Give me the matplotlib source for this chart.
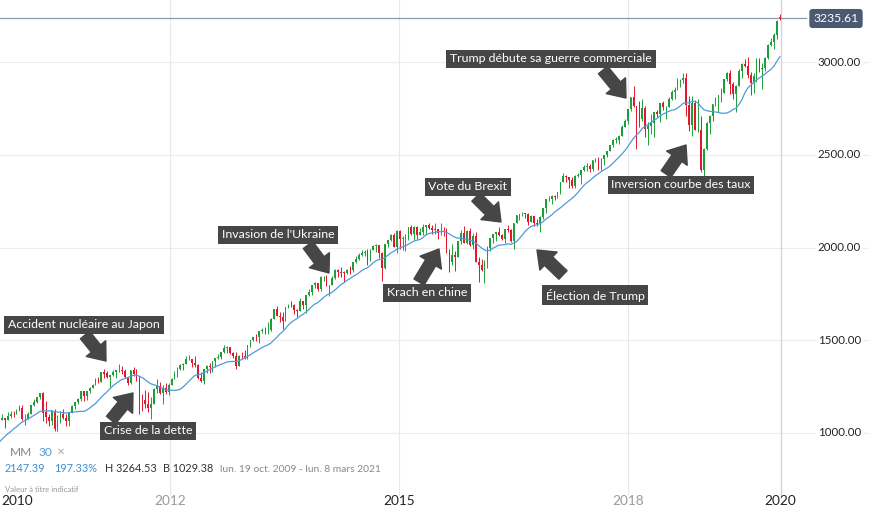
import matplotlib
matplotlib.use("Agg")
import matplotlib.pyplot as plt
from matplotlib.patches import FancyArrowPatch
import numpy as np
import pandas as pd

plt.rcParams['font.family'] = ['Lato', 'DejaVu Sans']

# ---------------- data (bi-weekly candles, S&P 500) ----------------
start_date = "2009-03-16"

opens = [757, 815, 856, 866, 929, 887, 940, 921, 896, 940, 987, 1004, 1028, 1042, 1044, 1071, 1079, 1069, 1091, 1105, 1102,
         1116, 1136, 1073, 1075, 1105, 1149, 1167, 1194, 1217, 1111, 1087, 1065, 1117, 1023, 1065, 1102, 1080, 1063, 1110, 1148, 1165, 1183, 1225, 1199, 1224, 1244,
         1258, 1293, 1277, 1329, 1321, 1304, 1314, 1329, 1337, 1340, 1333, 1300, 1272, 1340, 1316, 1292, 1179, 1177, 1154, 1136, 1158, 1239, 1253, 1216, 1244, 1219,
         1259, 1289, 1316, 1343, 1366, 1371, 1397, 1397, 1378, 1369, 1295, 1278, 1343, 1362, 1357, 1386, 1406, 1411, 1438, 1460, 1461, 1433, 1414, 1360, 1416, 1413,
         1402, 1472, 1503, 1518, 1516, 1551, 1557, 1553, 1555, 1614, 1667, 1631, 1626, 1606, 1680, 1692, 1691, 1664, 1655, 1710, 1690, 1745, 1762, 1798, 1806, 1775,
         1841, 1842, 1790, 1797, 1836, 1878, 1866, 1865, 1864, 1881, 1878, 1924, 1937, 1961, 1968, 1978, 1931, 1988, 2007, 2011, 1968, 1887, 2018, 2039, 2068, 2003,
         2089, 2045, 2051, 2055, 2110, 2071, 2108, 2067, 2081, 2108, 2123, 2107, 2094, 2101, 2076, 2079, 2077, 1971, 1921, 1958, 1951, 2033, 2079, 2023, 2090, 2012,
         2060, 1922, 1907, 1880, 1918, 2000, 2050, 2073, 2081, 2065, 2047, 2099, 2096, 2037, 2130, 2175, 2183, 2184, 2180, 2139, 2168, 2133, 2126, 2164, 2213, 2260,
         2264, 2277, 2271, 2297, 2351, 2383, 2378, 2363, 2329, 2384, 2391, 2416, 2432, 2438, 2425, 2473, 2477, 2426, 2477, 2500, 2519, 2553, 2581, 2582, 2602, 2652,
         2683, 2744, 2810, 2762, 2732, 2691, 2752, 2641, 2656, 2670, 2728, 2721, 2779, 2755, 2760, 2802, 2840, 2850, 2902, 2905, 2914, 2767, 2659, 2781, 2633, 2633,
         2417, 2532, 2671, 2707, 2776, 2804, 2822, 2834, 2907, 2940, 2881, 2826, 2873, 2950, 2990, 2977, 2932, 2889, 2926, 3007, 2962, 2970, 3023, 3093, 3110, 3146, 3240]

highs = [832, 857, 876, 930, 933, 956, 956, 931, 943, 996, 1018, 1039, 1049, 1080, 1071, 1101, 1081, 1113, 1119, 1117, 1130,
         1150, 1150, 1104, 1112, 1151, 1181, 1194, 1217, 1219, 1173, 1105, 1120, 1131, 1099, 1120, 1129, 1100, 1113, 1149, 1167, 1189, 1227, 1227, 1225, 1247, 1262,
         1296, 1303, 1331, 1344, 1332, 1305, 1339, 1337, 1370, 1359, 1345, 1301, 1341, 1356, 1347, 1307, 1208, 1231, 1220, 1195, 1240, 1293, 1277, 1260, 1267, 1269,
         1296, 1333, 1354, 1372, 1379, 1414, 1422, 1400, 1415, 1370, 1328, 1343, 1364, 1375, 1390, 1407, 1426, 1438, 1475, 1470, 1465, 1434, 1434, 1419, 1438, 1448,
         1472, 1504, 1519, 1531, 1552, 1564, 1573, 1597, 1618, 1667, 1687, 1650, 1654, 1680, 1698, 1709, 1693, 1669, 1730, 1711, 1745, 1775, 1798, 1813, 1810, 1844,
         1849, 1851, 1798, 1847, 1883, 1883, 1897, 1873, 1885, 1902, 1924, 1955, 1968, 1985, 1988, 1991, 1991, 2011, 2019, 2012, 1977, 2018, 2041, 2075, 2079, 2093,
         2093, 2064, 2072, 2111, 2119, 2114, 2115, 2107, 2126, 2123, 2134, 2121, 2130, 2102, 2132, 2113, 2105, 1993, 2021, 1979, 2033, 2094, 2116, 2097, 2104, 2077,
         2082, 1951, 1940, 1930, 2009, 2052, 2075, 2083, 2111, 2074, 2099, 2120, 2100, 2131, 2175, 2183, 2194, 2187, 2187, 2176, 2169, 2152, 2168, 2214, 2260, 2278,
         2282, 2282, 2301, 2352, 2401, 2390, 2381, 2378, 2392, 2403, 2418, 2446, 2454, 2450, 2474, 2484, 2490, 2480, 2500, 2519, 2555, 2583, 2598, 2605, 2658, 2695,
         2748, 2810, 2873, 2763, 2790, 2802, 2761, 2674, 2718, 2732, 2743, 2779, 2791, 2765, 2809, 2848, 2864, 2916, 2906, 2941, 2940, 2816, 2816, 2795, 2800, 2708,
         2536, 2675, 2716, 2776, 2814, 2822, 2861, 2911, 2945, 2955, 2892, 2876, 2964, 2996, 3018, 3028, 2944, 2939, 3021, 3022, 2993, 3027, 3097, 3127, 3154, 3225, 3258]

lows = [751, 783, 826, 847, 878, 881, 904, 888, 869, 938, 982, 978, 991, 1040, 1020, 1070, 1029, 1068, 1083, 1086, 1102,
        1116, 1071, 1044, 1075, 1105, 1148, 1161, 1181, 1066, 1056, 1040, 1043, 1011, 1011, 1056, 1076, 1040, 1039, 1108, 1131, 1157, 1171, 1173, 1176, 1218, 1241,
        1257, 1270, 1277, 1294, 1294, 1249, 1306, 1294, 1329, 1318, 1296, 1258, 1262, 1307, 1282, 1101, 1120, 1136, 1114, 1075, 1158, 1215, 1209, 1158, 1209, 1203,
        1259, 1289, 1300, 1337, 1340, 1371, 1391, 1357, 1358, 1292, 1277, 1266, 1324, 1325, 1329, 1354, 1398, 1397, 1429, 1430, 1426, 1403, 1343, 1360, 1398, 1398,
        1398, 1461, 1495, 1497, 1485, 1538, 1536, 1536, 1548, 1612, 1630, 1598, 1560, 1605, 1672, 1681, 1639, 1627, 1655, 1670, 1646, 1740, 1746, 1780, 1767, 1767,
        1822, 1790, 1738, 1797, 1832, 1839, 1842, 1814, 1859, 1859, 1868, 1915, 1934, 1952, 1955, 1904, 1928, 1988, 1977, 1941, 1821, 1886, 2001, 2034, 2002, 1973,
        1992, 1988, 1980, 2041, 2068, 2040, 2045, 2065, 2067, 2068, 2099, 2073, 2072, 2044, 2070, 2063, 1971, 1867, 1903, 1872, 1951, 2018, 2023, 2019, 2008, 1994,
        1922, 1812, 1872, 1810, 1891, 1979, 2022, 2033, 2060, 2039, 2025, 2085, 2032, 1992, 2130, 2147, 2168, 2160, 2119, 2139, 2114, 2115, 2084, 2152, 2187, 2248,
        2233, 2258, 2267, 2289, 2351, 2354, 2322, 2322, 2323, 2379, 2344, 2412, 2415, 2406, 2414, 2463, 2418, 2417, 2446, 2488, 2519, 2542, 2566, 2557, 2600, 2651,
        2664, 2737, 2759, 2533, 2647, 2681, 2594, 2553, 2612, 2595, 2701, 2676, 2741, 2691, 2760, 2795, 2802, 2848, 2864, 2886, 2710, 2628, 2603, 2631, 2621, 2409,
        2346, 2525, 2612, 2681, 2765, 2728, 2785, 2834, 2898, 2825, 2801, 2729, 2868, 2912, 2975, 2914, 2822, 2834, 2891, 2945, 2856, 2952, 3015, 3087, 3070, 3123, 3226]

closes = [815, 856, 866, 929, 887, 940, 921, 896, 940, 987, 1004, 1028, 1042, 1044, 1071, 1079, 1069, 1091, 1105, 1102, 1115,
          1136, 1073, 1075, 1104, 1149, 1166, 1194, 1217, 1110, 1087, 1064, 1117, 1022, 1065, 1101, 1079, 1065, 1110, 1148, 1165, 1183, 1225, 1199, 1225, 1244, 1258,
          1293, 1276, 1329, 1320, 1304, 1313, 1329, 1337, 1340, 1333, 1300, 1271, 1340, 1316, 1292, 1179, 1177, 1154, 1136, 1155, 1238, 1253, 1216, 1244, 1219, 1258,
          1289, 1316, 1343, 1366, 1371, 1397, 1398, 1378, 1369, 1295, 1278, 1343, 1362, 1357, 1386, 1406, 1411, 1438, 1460, 1461, 1433, 1414, 1360, 1416, 1413, 1402,
          1472, 1503, 1518, 1516, 1551, 1557, 1553, 1555, 1614, 1667, 1631, 1626, 1606, 1680, 1692, 1691, 1664, 1655, 1710, 1690, 1745, 1762, 1798, 1806, 1775, 1841,
          1842, 1790, 1797, 1836, 1878, 1866, 1865, 1864, 1881, 1878, 1924, 1937, 1961, 1968, 1978, 1931, 1988, 2007, 2011, 1968, 1887, 2018, 2039, 2068, 2003, 2089,
          2045, 2051, 2055, 2110, 2071, 2108, 2067, 2081, 2108, 2123, 2107, 2094, 2101, 2076, 2079, 2077, 1971, 1921, 1958, 1951, 2033, 2079, 2023, 2090, 2012, 2060,
          1922, 1907, 1880, 1918, 2000, 2050, 2073, 2081, 2065, 2047, 2099, 2096, 2037, 2130, 2175, 2183, 2184, 2180, 2139, 2168, 2133, 2126, 2164, 2213, 2260, 2264,
          2277, 2271, 2297, 2351, 2383, 2378, 2363, 2329, 2384, 2391, 2416, 2432, 2438, 2425, 2473, 2477, 2426, 2477, 2500, 2519, 2553, 2581, 2582, 2602, 2652, 2683,
          2744, 2810, 2762, 2732, 2691, 2752, 2641, 2656, 2670, 2728, 2721, 2779, 2755, 2760, 2802, 2840, 2850, 2902, 2905, 2914, 2767, 2659, 2781, 2633, 2633, 2417,
          2532, 2671, 2707, 2776, 2804, 2822, 2834, 2907, 2940, 2881, 2826, 2873, 2950, 2990, 2977, 2932, 2889, 2926, 3007, 2962, 2970, 3023, 3093, 3110, 3146, 3221, 3236]

ma_window = 15  # 30 weeks = 15 bi-weekly candles
last_price = 3235.61
y_ticks = [1000, 1500, 2000, 2500, 3000]
year_ticks = [2010, 2012, 2015, 2018, 2020]
year_colors = ['#222222', '#9a9a9a', '#222222', '#9a9a9a', '#222222']
grid_years = [2012, 2015, 2018, 2020]

events = [
    ("Accident nucléaire au Japon", (84, 325), (85, 335), (106, 361)),
    ("Crise de la dette", (148, 431), (111, 420), (133, 393)),
    ("Invasion de l'Ukraine", (278, 235), (308, 245), (329, 273)),
    ("Krach en chine", (427, 293), (419, 282), (439, 249)),
    ("Vote du Brexit", (468, 187), (476, 197), (501, 222)),
    ("Élection de Trump", (595, 295), (563, 275), (537, 250)),
    ("Trump débute sa guerre commerciale", (551, 59), (603, 70), (626, 98)),
    ("Inversion courbe des taux", (681, 185), (666, 174), (686, 145)),
]

# ---------------- figure ----------------
W, H = 869, 512
fig = plt.figure(figsize=(W / 100, H / 100), dpi=100)
fig.patch.set_facecolor('white')
ax = fig.add_axes([0, 0, 1, 1])
ax.set_facecolor('white')
for s in ax.spines.values():
    s.set_visible(False)
ax.set_xticks([])
ax.set_yticks([])

px_per_year = 76.3
x2010 = 17.5
t_left = 2010 - x2010 / px_per_year
t_right = 2010 + (W - x2010) / px_per_year
px_per_unit = 371 / 2000.0
v_top = 1000 + 433 / px_per_unit
v_bot = 1000 - (H - 433) / px_per_unit
ax.set_xlim(t_left, t_right)
ax.set_ylim(v_bot, v_top)

def fx(px):
    return px / W

def fy(py):
    return 1 - py / H

dates = pd.date_range(start_date, periods=len(closes), freq='14D') + pd.Timedelta(days=6)
tx = np.array([d.year + (d.dayofyear - 1) / (366 if d.is_leap_year else 365) for d in dates])
o = np.array(opens, float)
h = np.array(highs, float)
l = np.array(lows, float)
c = np.array(closes, float)

# grid
for yv in y_ticks:
    ax.axhline(yv, color='#ececec', lw=0.8, zorder=0)
grid_ymin = (H - 495) / H
for yr in grid_years:
    col = '#d3d6de' if yr == 2020 else '#e8e8e8'
    ax.axvline(yr, ymin=grid_ymin, ymax=1, color=col, lw=1.0 if yr == 2020 else 0.8, zorder=0)

# candles
green = '#1e9e3a'
red = '#e3172c'
cols = [green if cc >= oo else red for oo, cc in zip(o, c)]
ax.vlines(tx, l, h, colors=cols, lw=0.7, zorder=2)
body_h = np.maximum(np.abs(c - o), 2.0)
ax.bar(tx, body_h, bottom=np.minimum(o, c), width=0.022, color=cols, lw=0, zorder=3)

# moving average
ma = pd.Series(c).rolling(ma_window).mean()
ax.plot(tx, ma, color='#4d9bdb', lw=0.9, zorder=4)

# last price line
ax.plot([t_left, 2010 + (806 - x2010) / px_per_year], [last_price, last_price], color='#8e98ab', lw=0.9, zorder=1)
fig.text(fx(836), fy(18.5), f"{last_price:.2f}", ha='center', va='center', color='white', fontsize=8.8,
         bbox=dict(boxstyle='round,pad=0.33,rounding_size=0.25', fc='#4b5a70', ec='none'))

# right axis labels
for yv in y_ticks:
    py = 433 - (yv - 1000) * px_per_unit
    fig.text(fx(861), fy(py), f"{yv:.2f}", ha='right', va='center', color='#222222', fontsize=8.3,
             bbox=dict(boxstyle='square,pad=0.15', fc='white', ec='none'))

# year labels
for yr, colr in zip(year_ticks, year_colors):
    px = x2010 + (yr - 2010) * px_per_year
    fig.text(fx(px), fy(501), str(yr), ha='center', va='center', color=colr, fontsize=9.8)

# annotations
for text, (cx, cy), (x0, y0), (x1, y1) in events:
    fig.text(fx(cx), fy(cy), text, ha='center', va='center', color='white', fontsize=8.9,
             bbox=dict(boxstyle='square,pad=0.3', fc='#464646', ec='none'), zorder=10)
    arr = FancyArrowPatch(posA=(fx(x0), fy(y0)), posB=(fx(x1), fy(y1)), transform=fig.transFigure,
                          arrowstyle='simple,head_length=1.15,head_width=1.8,tail_width=0.85',
                          mutation_scale=10, color='#464646', shrinkA=0, shrinkB=0, zorder=10)
    fig.add_artist(arr)

# legend / info text
fig.text(fx(10), fy(452), "MM", ha='left', va='center', color='#888888', fontsize=8.6)
fig.text(fx(38), fy(452), "30", ha='left', va='center', color='#4d9bdb', fontsize=8.6)
fig.text(fx(57), fy(452), "✕", ha='left', va='center', color='#aaaaaa', fontsize=7, family='DejaVu Sans')
fig.text(fx(5), fy(469), "2147.39", ha='left', va='center', color='#3d8fd0', fontsize=7.8)
fig.text(fx(54), fy(469), "197.33%", ha='left', va='center', color='#3d8fd0', fontsize=7.8)
fig.text(fx(105), fy(469), "H 3264.53", ha='left', va='center', color='#333333', fontsize=7.8)
fig.text(fx(163), fy(469), "B 1029.38", ha='left', va='center', color='#333333', fontsize=7.8)
fig.text(fx(220), fy(469), "lun. 19 oct. 2009 - lun. 8 mars 2021", ha='left', va='center', color='#888888', fontsize=7.4)
fig.text(fx(5), fy(489), "Valeur à titre indicatif", ha='left', va='center', color='#999999', fontsize=5.6)

fig.savefig("out.png", dpi=100, facecolor='white')
